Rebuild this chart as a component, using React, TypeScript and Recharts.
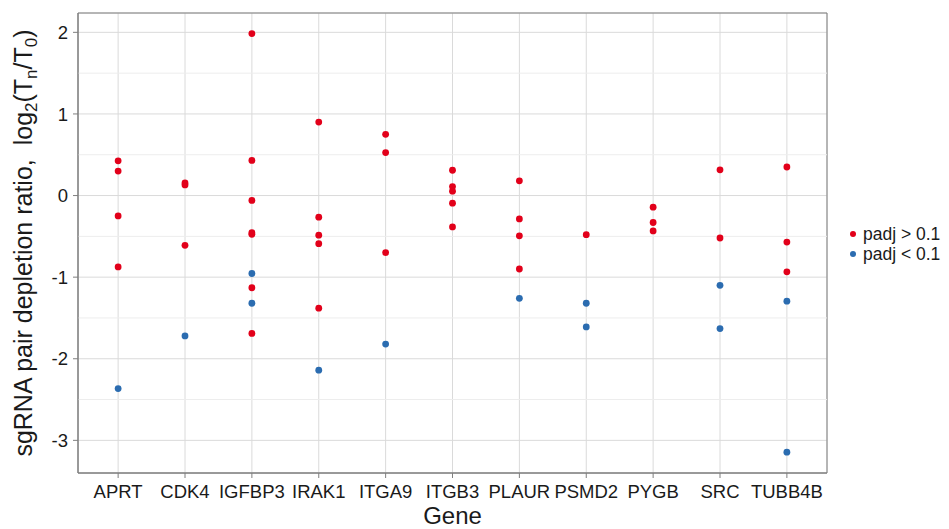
import {
  CartesianGrid,
  Legend,
  ReferenceArea,
  ReferenceLine,
  Scatter,
  ScatterChart,
  XAxis,
  YAxis
} from "recharts";

const genes = ["APRT", "CDK4", "IGFBP3", "IRAK1", "ITGA9", "ITGB3", "PLAUR", "PSMD2", "PYGB", "SRC", "TUBB4B"];

// log2 depletion ratio per gene, padj > 0.1 (red)
const highPadjValues: number[][] = [
  [0.425, 0.3, -0.25, -0.875],
  [0.155, 0.13, -0.61],
  [1.985, 0.43, -0.06, -0.455, -0.475, -1.13, -1.69],
  [0.9, -0.265, -0.485, -0.59, -1.38],
  [0.75, 0.527, -0.7],
  [0.31, 0.11, 0.054, -0.093, -0.384],
  [0.18, -0.286, -0.494, -0.9],
  [-0.48],
  [-0.143, -0.33, -0.433],
  [0.315, -0.52],
  [0.35, -0.57, -0.935]
];

// padj < 0.1 (blue)
const lowPadjValues: number[][] = [
  [-2.365],
  [-1.72],
  [-0.955, -1.32],
  [-2.14],
  [-1.82],
  [],
  [-1.26],
  [-1.32, -1.61],
  [],
  [-1.1, -1.63],
  [-1.295, -3.145]
];

const seriesNames = ["padj > 0.1", "padj < 0.1"];
const yTicks = [-3, -2, -1, 0, 1, 2];
const yMinorTicks = [-2.5, -1.5, -0.5, 0.5, 1.5];

const RED = "#e2001a";
const BLUE = "#2b6cb0";
const FONT = "'Liberation Sans', Arial, sans-serif";
const TEXT = "#1a1a1a";
const FRAME = "#7f7f7f";

const X_DOMAIN: [number, number] = [0.4, genes.length + 0.6];
const Y_DOMAIN: [number, number] = [-3.4, 2.237];

interface Point {
  x: number;
  y: number;
}

const toPoints = (groups: number[][]): Point[] =>
  groups.flatMap((values, i) => values.map((y) => ({ x: i + 1, y })));

const highPoints = toPoints(highPadjValues);
const lowPoints = toPoints(lowPadjValues);
const xTicks = genes.map((_, i) => i + 1);

const redDot = (props: any) => <circle cx={props.cx} cy={props.cy} r={3.4} fill={RED} />;
const blueDot = (props: any) => <circle cx={props.cx} cy={props.cy} r={3.4} fill={BLUE} />;

const renderYTitle = () => (
  <text
    x={32}
    y={243}
    transform="rotate(-90, 32, 243)"
    textAnchor="middle"
    fontFamily={FONT}
    fontSize={25}
    fill={TEXT}
  >
    sgRNA pair depletion ratio,{"\u00a0\u00a0"}log
    <tspan dy={5} fontSize={17}>2</tspan>
    <tspan dy={-5}>(T</tspan>
    <tspan dy={5} fontSize={17}>n</tspan>
    <tspan dy={-5}>/T</tspan>
    <tspan dy={5} fontSize={17}>0</tspan>
    <tspan dy={-5}>)</tspan>
  </text>
);

const renderLegend = (props: any) => {
  const payload = [...(props.payload ?? [])].sort(
    (a: any, b: any) => seriesNames.indexOf(a.value) - seriesNames.indexOf(b.value)
  );
  return (
    <div style={{ fontFamily: FONT, fontSize: 17.5, lineHeight: "20px", color: TEXT }}>
      {payload.map((entry: any) => (
        <div key={entry.value} style={{ display: "flex", alignItems: "center", height: 20 }}>
          <span
            style={{
              display: "inline-block",
              width: 6,
              height: 6,
              borderRadius: 3,
              backgroundColor: entry.color,
              marginRight: 7
            }}
          />
          <span>{entry.value}</span>
        </div>
      ))}
    </div>
  );
};

export default function App() {
  return (
    <div style={{ position: "absolute", left: 0, top: 0, width: 949, height: 529, background: "#fff" }}>
      <ScatterChart width={949} height={529} margin={{ top: 13, right: 122, bottom: 0, left: 0 }}>
        <CartesianGrid stroke="#dadada" />
        {yMinorTicks.map((v) => (
          <ReferenceLine key={v} y={v} stroke="#ededed" />
        ))}
        <XAxis
          type="number"
          dataKey="x"
          domain={X_DOMAIN}
          ticks={xTicks}
          interval={0}
          allowDataOverflow
          tickFormatter={(v: number) => genes[v - 1] ?? ""}
          height={56}
          tickSize={5}
          tickMargin={7}
          axisLine={{ stroke: FRAME }}
          tickLine={{ stroke: FRAME }}
          tick={{ fill: TEXT, fontSize: 18.5, fontFamily: FONT }}
          label={{ value: "Gene", position: "insideBottom", offset: 5, fill: TEXT, fontSize: 24, fontFamily: FONT }}
        />
        <YAxis
          type="number"
          dataKey="y"
          domain={Y_DOMAIN}
          ticks={yTicks}
          allowDataOverflow
          width={78}
          tickSize={5}
          tickMargin={5}
          axisLine={{ stroke: FRAME }}
          tickLine={{ stroke: FRAME }}
          tick={{ fill: TEXT, fontSize: 18.5, fontFamily: FONT }}
          label={{ content: renderYTitle }}
        />
        <ReferenceArea
          x1={X_DOMAIN[0]}
          x2={X_DOMAIN[1]}
          y1={Y_DOMAIN[0]}
          y2={Y_DOMAIN[1]}
          fill="none"
          stroke={FRAME}
        />
        <Scatter name={seriesNames[0]} data={highPoints} fill={RED} shape={redDot} isAnimationActive={false} />
        <Scatter name={seriesNames[1]} data={lowPoints} fill={BLUE} shape={blueDot} isAnimationActive={false} />
        <Legend
          layout="horizontal"
          verticalAlign="middle"
          content={renderLegend}
          wrapperStyle={{ left: 850, top: 224, width: 99 }}
        />
      </ScatterChart>
    </div>
  );
}
